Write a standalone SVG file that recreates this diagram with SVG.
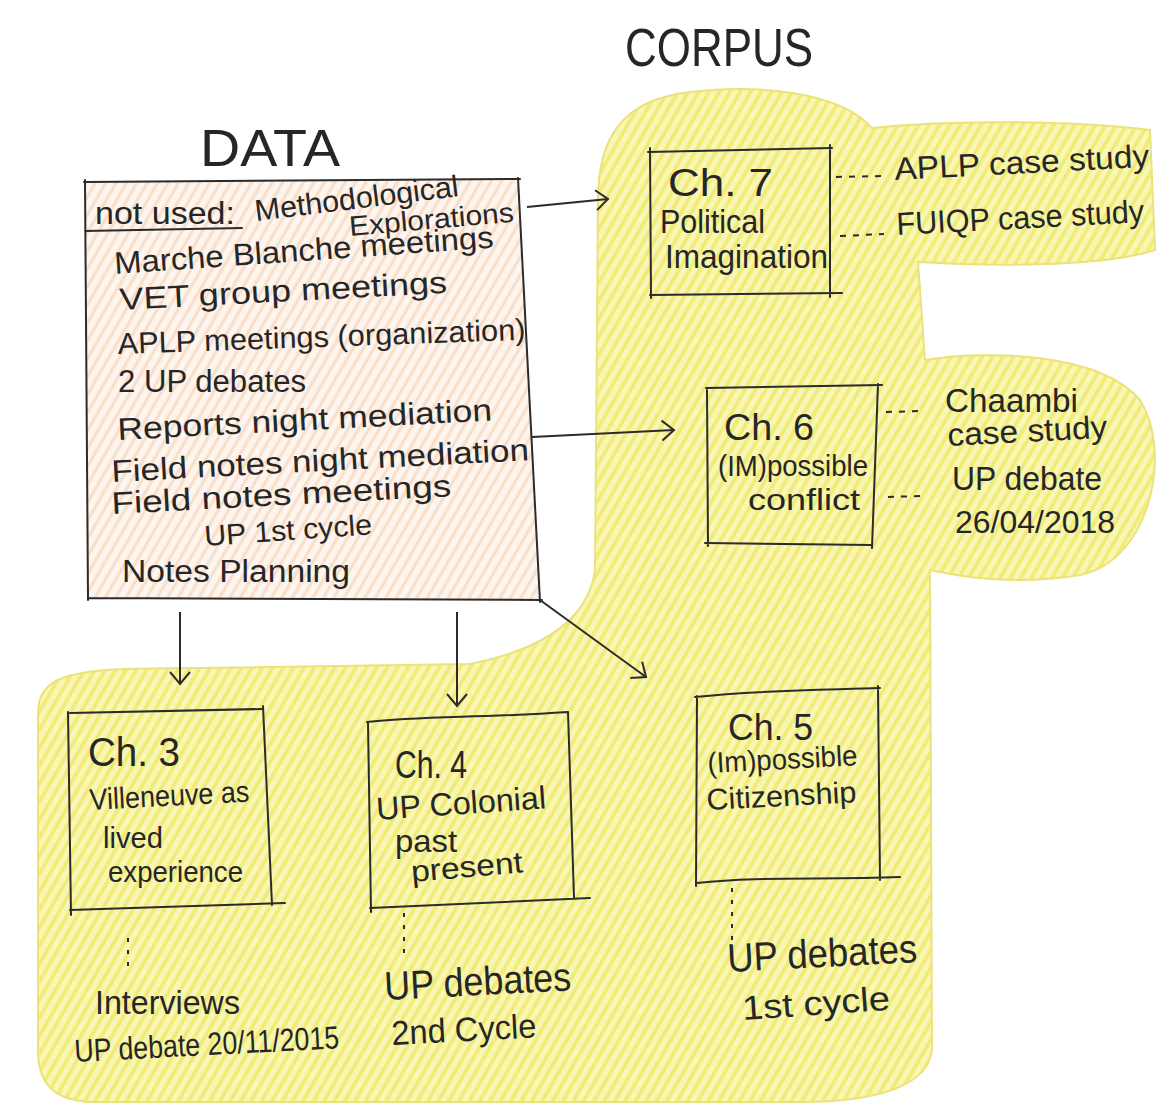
<svg xmlns="http://www.w3.org/2000/svg" width="1161" height="1117" viewBox="0 0 1161 1117">
<defs>
<pattern id="yhatch" patternUnits="userSpaceOnUse" width="9" height="9" patternTransform="rotate(30)">
<rect width="9" height="9" fill="#f8f6b2"/>
<line x1="3" y1="0" x2="3" y2="9" stroke="#f0eb74" stroke-width="3.5"/>
</pattern>
<pattern id="ohatch" patternUnits="userSpaceOnUse" width="9" height="9" patternTransform="rotate(30)">
<rect width="9" height="9" fill="#fdf5ee"/>
<line x1="3" y1="0" x2="3" y2="9" stroke="#f8dec8" stroke-width="3"/>
</pattern>
<marker id="arr" markerUnits="userSpaceOnUse" markerWidth="24" markerHeight="24" refX="14" refY="10" orient="auto" viewBox="0 0 24 20">
<path d="M2,0 L14,10 L2,20" fill="none" stroke="#2b2b2b" stroke-width="2"/>
</marker>
</defs>
<style>
.t{font-family:"Liberation Sans","DejaVu Sans",sans-serif;fill:#262626;}
.box{fill:none;stroke:#2b2b2b;stroke-width:2;stroke-linecap:round;}
.dash{fill:none;stroke:#2b2b2b;stroke-width:2;stroke-dasharray:6 7;}
.dot{fill:none;stroke:#2b2b2b;stroke-width:2;stroke-dasharray:4 8;}
.conn{fill:none;stroke:#2b2b2b;stroke-width:2;marker-end:url(#arr);}
</style>
<rect width="1161" height="1117" fill="#ffffff"/>

<g id="corpus-area">
<path d="M45,690 C60,668 120,668 200,668 L470,664 C540,650 588,622 595,570 L598,200 C598,140 620,100 690,92 C760,84 840,92 872,128 C930,122 1050,118 1150,130 L1155,250 C1100,268 980,266 918,262 L925,360 C985,350 1100,352 1140,400 C1172,450 1152,560 1080,575 C1020,585 965,578 930,570 L932,1050 C928,1085 880,1102 800,1102 L90,1102 C52,1100 38,1082 38,1050 L38,720 C38,702 40,696 45,690 Z" fill="url(#yhatch)" stroke="#ebe27a" stroke-width="2"/>
<text class="t" x="625" y="66" font-size="54" textLength="188" lengthAdjust="spacingAndGlyphs">CORPUS</text>
</g>

<g id="data">
<path d="M85,182 L88,598 L540,600 L518,178 Z" fill="url(#ohatch)" stroke="none"/>
<path class="box" d="M85,180 L88,600 M84,182 L520,179 M518,178 L540,602 M88,598 L542,600 M85,231 L242,228"/>
<text class="t" x="200" y="166" font-size="52" textLength="140" lengthAdjust="spacingAndGlyphs">DATA</text>
<text class="t" x="95" y="224" font-size="31" textLength="140" lengthAdjust="spacingAndGlyphs">not used:</text>
<text class="t" x="256" y="221" font-size="30" textLength="205" lengthAdjust="spacingAndGlyphs" transform="rotate(-7 256 221)">Methodological</text>
<text class="t" x="350" y="236" font-size="28" textLength="165" lengthAdjust="spacingAndGlyphs" transform="rotate(-5 350 236)">Explorations</text>
<text class="t" x="115" y="274" font-size="31" textLength="380" lengthAdjust="spacingAndGlyphs" transform="rotate(-4 115 274)">Marche Blanche meetings</text>
<text class="t" x="120" y="310" font-size="31" textLength="328" lengthAdjust="spacingAndGlyphs" transform="rotate(-3 120 310)">VET group meetings</text>
<text class="t" x="118" y="354" font-size="30" textLength="408" lengthAdjust="spacingAndGlyphs" transform="rotate(-2 118 354)">APLP meetings (organization)</text>
<text class="t" x="118" y="392" font-size="31" textLength="188" lengthAdjust="spacingAndGlyphs">2 UP debates</text>
<text class="t" x="118" y="440" font-size="31" textLength="375" lengthAdjust="spacingAndGlyphs" transform="rotate(-3 118 440)">Reports night mediation</text>
<text class="t" x="112" y="482" font-size="31" textLength="418" lengthAdjust="spacingAndGlyphs" transform="rotate(-3 112 482)">Field notes night mediation</text>
<text class="t" x="112" y="514" font-size="31" textLength="340" lengthAdjust="spacingAndGlyphs" transform="rotate(-3 112 514)">Field notes meetings</text>
<text class="t" x="205" y="546" font-size="29" textLength="168" lengthAdjust="spacingAndGlyphs" transform="rotate(-4 205 546)">UP 1st cycle</text>
<text class="t" x="122" y="582" font-size="31" textLength="228" lengthAdjust="spacingAndGlyphs">Notes Planning</text>
</g>

<g id="ch7">
<path class="box" d="M650,148 L651,298 M648,152 L832,148 M830,145 L830,297 M650,295 L842,293"/>
<text class="t" x="668" y="196" font-size="38" textLength="105" lengthAdjust="spacingAndGlyphs">Ch. 7</text>
<text class="t" x="660" y="233" font-size="33" textLength="105" lengthAdjust="spacingAndGlyphs">Political</text>
<text class="t" x="665" y="268" font-size="33" textLength="163" lengthAdjust="spacingAndGlyphs">Imagination</text>
</g>

<g id="ch6">
<path class="box" d="M707,390 L708,546 M706,388 L882,385 M878,384 L872,548 M705,543 L872,545"/>
<text class="t" x="724" y="440" font-size="36" textLength="90" lengthAdjust="spacingAndGlyphs">Ch. 6</text>
<text class="t" x="718" y="476" font-size="29" textLength="150" lengthAdjust="spacingAndGlyphs">(IM)possible</text>
<text class="t" x="748" y="510" font-size="30" textLength="112" lengthAdjust="spacingAndGlyphs">conflict</text>
</g>

<g id="ch3">
<path class="box" d="M68,712 L71,915 M70,713 L262,709 M263,706 L272,905 M70,910 L285,903"/>
<text class="t" x="88" y="766" font-size="40" textLength="92" lengthAdjust="spacingAndGlyphs">Ch. 3</text>
<text class="t" x="90" y="810" font-size="30" textLength="160" lengthAdjust="spacingAndGlyphs" transform="rotate(-3 90 810)">Villeneuve as</text>
<text class="t" x="103" y="848" font-size="30" textLength="60" lengthAdjust="spacingAndGlyphs">lived</text>
<text class="t" x="108" y="882" font-size="30" textLength="135" lengthAdjust="spacingAndGlyphs">experience</text>
</g>

<g id="ch4">
<path class="box" d="M368,722 L371,912 M367,722 C420,716 480,718 568,712 M568,712 L574,898 M370,908 L590,898"/>
<text class="t" x="395" y="778" font-size="38" textLength="72" lengthAdjust="spacingAndGlyphs">Ch. 4</text>
<text class="t" x="377" y="820" font-size="32" textLength="170" lengthAdjust="spacingAndGlyphs" transform="rotate(-4 377 820)">UP Colonial</text>
<text class="t" x="395" y="852" font-size="32" textLength="62" lengthAdjust="spacingAndGlyphs">past</text>
<text class="t" x="412" y="882" font-size="30" textLength="112" lengthAdjust="spacingAndGlyphs" transform="rotate(-5 412 882)">present</text>
</g>

<g id="ch5">
<path class="box" d="M697,696 L696,886 M695,697 C760,690 820,690 880,688 M878,686 L880,880 M697,883 C760,876 820,880 900,877"/>
<text class="t" x="728" y="740" font-size="36" textLength="85" lengthAdjust="spacingAndGlyphs">Ch. 5</text>
<text class="t" x="708" y="773" font-size="29" textLength="150" lengthAdjust="spacingAndGlyphs" transform="rotate(-3 708 773)">(Im)possible</text>
<text class="t" x="707" y="810" font-size="30" textLength="150" lengthAdjust="spacingAndGlyphs" transform="rotate(-3 707 810)">Citizenship</text>
</g>

<g id="annotations">
<text class="t" x="895" y="180" font-size="32" textLength="255" lengthAdjust="spacingAndGlyphs" transform="rotate(-3 895 180)">APLP case study</text>
<text class="t" x="897" y="235" font-size="32" textLength="248" lengthAdjust="spacingAndGlyphs" transform="rotate(-3 897 235)">FUIQP case study</text>
<text class="t" x="945" y="412" font-size="34" textLength="133" lengthAdjust="spacingAndGlyphs">Chaambi</text>
<text class="t" x="948" y="446" font-size="32" textLength="160" lengthAdjust="spacingAndGlyphs" transform="rotate(-3 948 446)">case study</text>
<text class="t" x="952" y="490" font-size="34" textLength="150" lengthAdjust="spacingAndGlyphs">UP debate</text>
<text class="t" x="955" y="533" font-size="32" textLength="160" lengthAdjust="spacingAndGlyphs">26/04/2018</text>
<text class="t" x="95" y="1014" font-size="34" textLength="145" lengthAdjust="spacingAndGlyphs">Interviews</text>
<text class="t" x="75" y="1062" font-size="32" textLength="265" lengthAdjust="spacingAndGlyphs" transform="rotate(-3 75 1062)">UP debate 20/11/2015</text>
<text class="t" x="385" y="1000" font-size="40" textLength="187" lengthAdjust="spacingAndGlyphs" transform="rotate(-3 385 1000)">UP debates</text>
<text class="t" x="392" y="1045" font-size="34" textLength="145" lengthAdjust="spacingAndGlyphs" transform="rotate(-3 392 1045)">2nd Cycle</text>
<text class="t" x="728" y="972" font-size="40" textLength="190" lengthAdjust="spacingAndGlyphs" transform="rotate(-3 728 972)">UP debates</text>
<text class="t" x="743" y="1020" font-size="34" textLength="148" lengthAdjust="spacingAndGlyphs" transform="rotate(-4 743 1020)">1st cycle</text>
</g>

<g id="connectors">
<path class="conn" d="M527,207 L608,199"/>
<path class="conn" d="M532,437 L674,430"/>
<path class="conn" d="M540,600 L646,677"/>
<path class="conn" d="M180,612 L180,684"/>
<path class="conn" d="M457,612 L457,706"/>
<path class="dash" d="M836,177 L882,176"/>
<path class="dash" d="M840,236 L884,234"/>
<path class="dash" d="M886,412 L922,411"/>
<path class="dash" d="M888,497 L922,496"/>
<path class="dot" d="M128,938 L128,974"/>
<path class="dot" d="M404,913 L404,960"/>
<path class="dot" d="M732,888 L732,946"/>
</g>
</svg>
